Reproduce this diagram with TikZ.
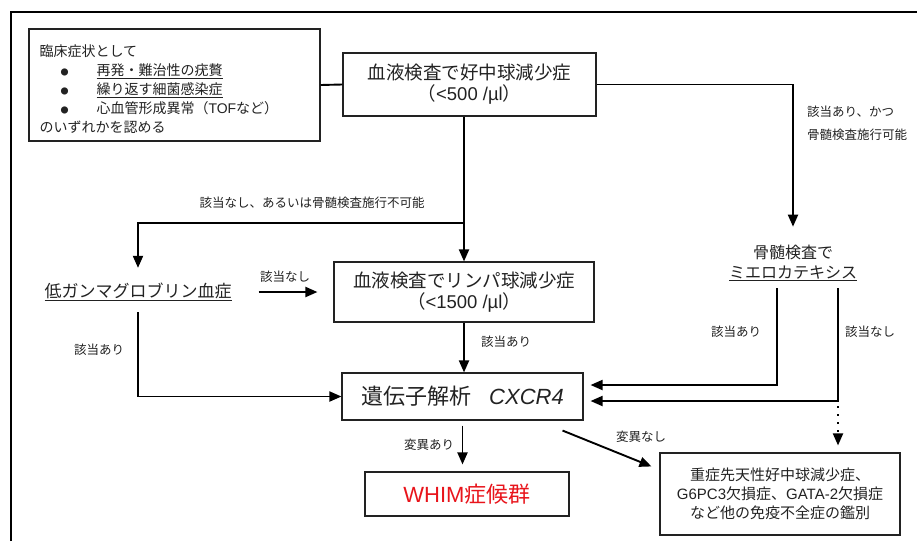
\documentclass[tikz,border=0pt]{standalone}
\usepackage{fontspec}
\setmainfont{Noto Sans CJK JP}
\newfontfamily\lat{Liberation Sans}
\usetikzlibrary{arrows.meta, positioning, calc}
\definecolor{txtGrey}{HTML}{222222}
\definecolor{whimRed}{HTML}{E8141B}
\newcommand{\fs}[2]{\fontsize{#1}{#2}\selectfont}
\newcommand{\bul}{\makebox[10pt]{\fs{8}{8}●}}
\tikzset{
  frame/.style    = {line width=1.8pt, black},
  box/.style      = {draw, line width=1.1pt, align=center, inner sep=2pt, txtGrey},
  plain/.style    = {align=center, inner sep=2pt, txtGrey},
  conn/.style     = {-{Triangle[length=12pt,width=10pt]}, line width=1.9pt, black},
  wire/.style     = {line width=1.9pt, black},
  lbl/.style      = {font=\fs{12.5}{15}, txtGrey, inner sep=1pt},
}
\begin{document}
\begin{tikzpicture}[x=1pt,y=-1pt]
  \useasboundingbox (0,0) rectangle (917,541);
  \draw[frame] (11,541) |- (917,12);

  \node[box, align=left, text width=270pt, inner xsep=10.5pt, minimum height=112pt,
        font=\fs{14}{19}] (sympt) at (174.5,85)
    {\rule{0pt}{20pt}臨床症状として\\
     \hspace*{20pt}\bul\hspace{27pt}\underline{再発・難治性の疣贅}\\
     \hspace*{20pt}\bul\hspace{27pt}\underline{繰り返す細菌感染症}\\
     \hspace*{20pt}\bul\hspace{27pt}心血管形成異常（{\lat TOF}など）\\
     のいずれかを認める};
  \node[box, minimum width=253pt, minimum height=63pt, font=\fs{18.5}{21}] (neut) at (469.5,84.5)
    {血液検査で好中球減少症\\（{\lat <500 /µl}）};
  \node[plain, font=\fs{16}{20}] (bm) at (793,263)
    {骨髄検査で\\\underline{ミエロカテキシス}};
  \node[plain, font=\fs{17}{20}] (lowg) at (138,292) {\underline{低ガンマグロブリン血症}};
  \node[box, minimum width=260pt, minimum height=60pt, font=\fs{18.5}{21}] (lymph) at (464,292)
    {血液検査でリンパ球減少症\\（{\lat <1500 /µl}）};
  \node[box, minimum width=241pt, minimum height=47pt, font=\fs{22}{24}] (gene) at (462.5,396.5)
    {遺伝子解析\hspace{18pt}{\lat\itshape CXCR4}};
  \node[box, minimum width=204pt, minimum height=44pt, font=\fs{22}{24}, text=whimRed] (whim) at (467,494)
    {{\lat WHIM}症候群};
  \node[box, minimum width=240pt, minimum height=82pt, font=\fs{15}{19}] (other) at (780,494)
    {重症先天性好中球減少症、\\{\lat G6PC3}欠損症、{\lat GATA-2}欠損症\\など他の免疫不全症の鑑別};

  \coordinate (br) at (neut.south -| lymph.north);
  \coordinate (split) at (464,223);
  \coordinate (bmL) at (777,288);
  \coordinate (bmR) at (838,288);

  \draw[wire] (sympt.east) -- (neut.west);
  \draw[conn] (neut.east) -| ([yshift=16pt]bm.north);
  \draw[conn] (br) -- (lymph.north);
  \draw[conn] (split) -| ([yshift=13pt]lowg.north);
  \draw[conn, shorten <=25pt, shorten >=16pt] (lowg.east) -- (lymph.west);
  \draw[conn] (lymph.south) -- (lymph.south |- gene.north);
  \draw[conn, shorten <=9pt] (lowg.south) |- (gene.west);
  \draw[conn] (bmL) |- ([xshift=7pt,yshift=11.5pt]gene.east);
  \draw[conn] (bmR) |- ([xshift=7pt,yshift=-4.5pt]gene.east);
  \draw[conn, dash pattern=on 2pt off 6pt, shorten >=7pt] (bmR |- 0,406) -- (bmR |- other.north);
  \draw[conn, shorten <=5pt, shorten >=7pt] (gene.south) -- (gene.south |- whim.north);
  \draw[conn] ([xshift=-21pt,yshift=-10pt]gene.south east) -- ([xshift=-8pt,yshift=-14pt]other.north west);

  \node[lbl, align=left, anchor=west, font=\fs{12.5}{23}] at (806,123) {該当あり、かつ\\骨髄検査施行可能};
  \node[lbl] at (312,203) {該当なし、あるいは骨髄検査施行不可能};
  \node[lbl] at (285,277) {該当なし};
  \node[lbl] at (99,350) {該当あり};
  \node[lbl] at (506,342) {該当あり};
  \node[lbl] at (736,332) {該当あり};
  \node[lbl] at (870,332) {該当なし};
  \node[lbl] at (429,445) {変異あり};
  \node[lbl] at (641,437) {変異なし};
\end{tikzpicture}
\end{document}
